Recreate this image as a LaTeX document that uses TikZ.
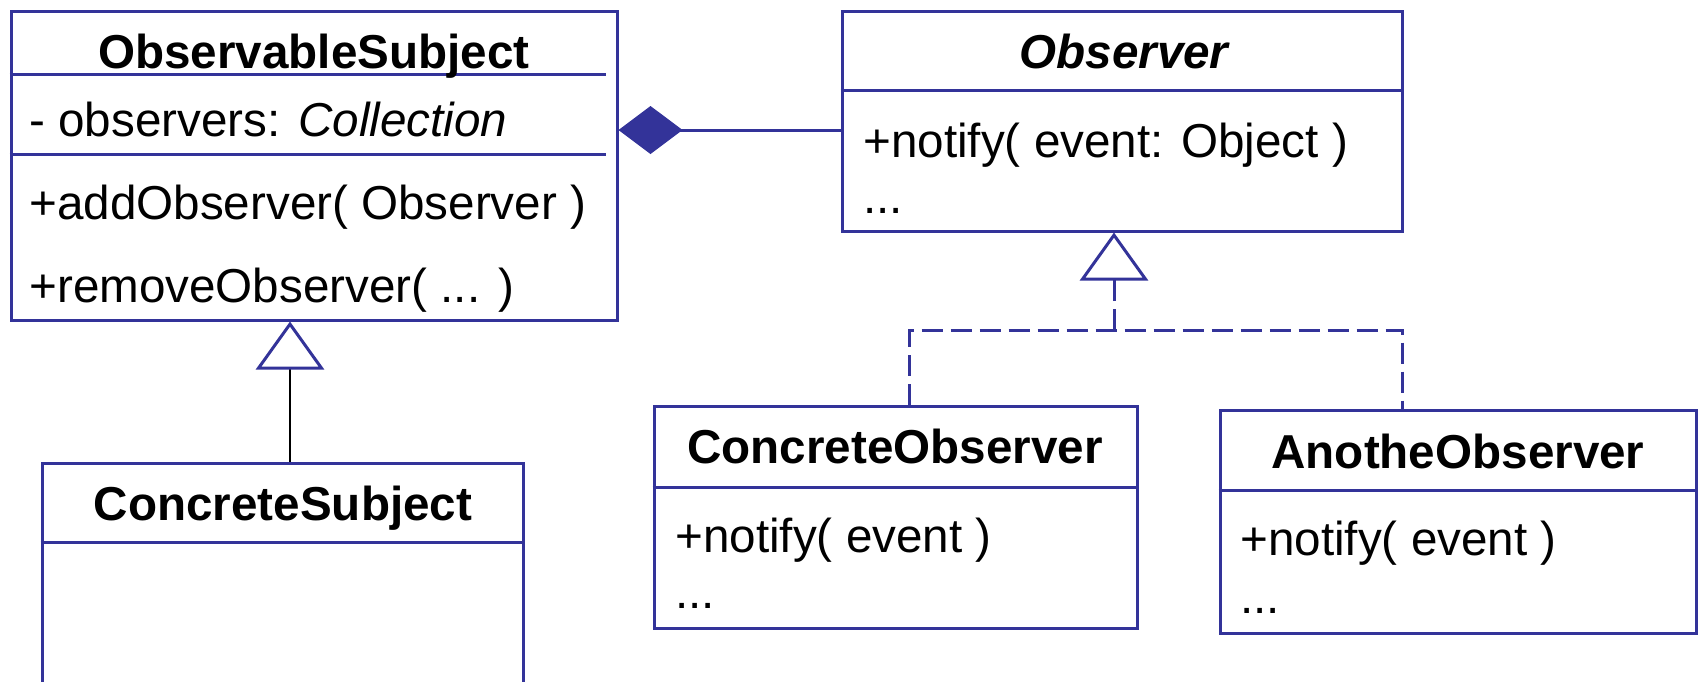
\documentclass[tikz,border=0pt]{standalone}
\usepackage{fontspec}
\setmainfont{Liberation Sans}
\usepackage{xcolor}
\definecolor{umlblue}{RGB}{51,51,153}
\usetikzlibrary{arrows.meta, positioning, calc}

\begin{document}
\begin{tikzpicture}[x=0.5pt, y=-0.5pt,
  classbox/.style={draw=umlblue, line width=1.5pt, inner sep=0pt},
  compline/.style={draw=umlblue, line width=1.5pt},
  member/.style={inner sep=0pt, anchor=base west, font=\fontsize{23.8}{28}\selectfont},
  classname/.style={inner sep=0pt, anchor=base, font=\fontsize{23.8}{28}\selectfont\bfseries},
  composition/.style={draw=umlblue, line width=1.5pt, -{Diamond[length=32pt, width=24pt]}},
  inherit/.style={draw=black, line width=0.75pt,
    -{Triangle[color=umlblue, fill=white, length=24pt, width=34pt, line width=1.5pt]}},
  realize/.style={draw=umlblue, line width=1.5pt, dash pattern=on 10.5pt off 4pt}]

\useasboundingbox (0,0) rectangle (1698,681);
\clip (0,0) rectangle (1698,681);

% --- ObservableSubject ---
\node[classbox, minimum width=303pt, minimum height=154.5pt] (os) at (314,165.5) {};
\draw[compline] (os.west |- 0,74) -- ([xshift=-6.5pt]os.east |- 0,74);
\draw[compline] (os.west |- 0,154) -- ([xshift=-6.5pt]os.east |- 0,154);
\node[classname] (os-name) at (314,68) {ObservableSubject};
\node[member] (os-attr) at (29,136) {- observers: \textit{Collection}};
\node[member] (os-add) at (29,219) {+addObserver( Observer )};
\node[member] (os-remove) at (29,302) {+removeObserver( ... )};

% --- Observer ---
\node[classbox, minimum width=280pt, minimum height=110pt] (obs) at (1122,121) {};
\draw[compline] (obs.west |- 0,90) -- (obs.east |- 0,90);
\node[classname, font=\fontsize{23.8}{28}\selectfont\bfseries\itshape] (obs-name) at (1124,68) {Observer};
\node[member] (obs-notify) at (863,157) {+notify( event: Object )};
\node[member] (obs-more) at (863,213) {...};

% --- ConcreteSubject ---
\node[classbox, minimum width=240.5pt, minimum height=128.5pt] (cs) at (282.5,591.5) {};
\draw[compline] (cs.west |- 0,542) -- (cs.east |- 0,542);
\node[classname] (cs-name) at (283,520) {ConcreteSubject};

% --- ConcreteObserver ---
\node[classbox, minimum width=241.5pt, minimum height=111pt] (co) at (895.5,517) {};
\draw[compline] (co.west |- 0,487) -- (co.east |- 0,487);
\node[classname] (co-name) at (895,463) {ConcreteObserver};
\node[member] (co-notify) at (675,552) {+notify( event )};
\node[member] (co-more) at (675,608) {...};

% --- AnotheObserver ---
\node[classbox, minimum width=238pt, minimum height=111.5pt] (ao) at (1458,521.5) {};
\draw[compline] (ao.west |- 0,490) -- (ao.east |- 0,490);
\node[classname] (ao-name) at (1458,468) {AnotheObserver};
\node[member] (ao-notify) at (1240,555) {+notify( event )};
\node[member] (ao-more) at (1240,613) {...};

% --- relations ---
\draw[composition] ([yshift=-4.5pt]obs.west) -- ([yshift=-4.5pt]obs.west -| os.east);
\draw[inherit] ([xshift=3.75pt]cs.north) -- ([xshift=3.75pt]cs.north |- os.south);

\coordinate (join) at (1114,330);
\draw[realize] ([xshift=6.75pt]co.north) |- (join) -| ([xshift=-28pt]ao.north);
\draw[realize, -{Triangle[color=umlblue, fill=white, length=24pt, width=34pt, line width=1.5pt]}]
  (join) -- (join |- obs.south);

\end{tikzpicture}
\end{document}
